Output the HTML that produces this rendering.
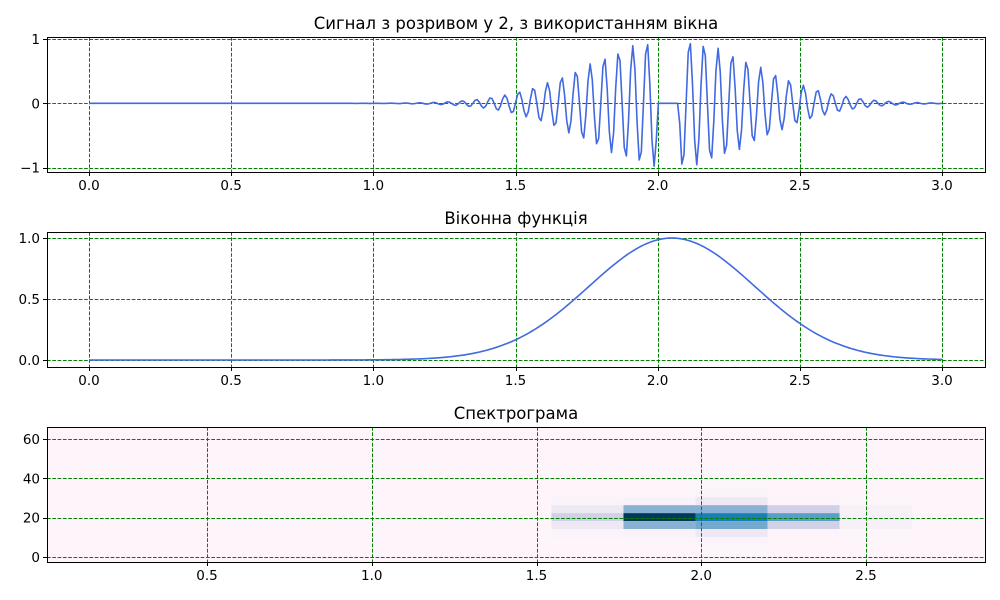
<!DOCTYPE html>
<html><head><meta charset="utf-8"><style>
body{margin:0;background:#fff;}
svg{display:block;font-family:"DejaVu Sans","Liberation Sans",sans-serif;}
</style></head><body>
<svg id="c" width="1000" height="600"></svg>
<script>
// ---- data ----
const sigFreq = 20;            // Hz carrier
const sigBreakStart = 2.0;     // gap start (s)
const sigBreakEnd = 2.075;     // gap end (s)
const sampleCount = 400;
const winTimes = [0,0.5,0.9,1.0,1.05,1.1,1.15,1.2,1.25,1.3,1.35,1.4,1.45,1.5,1.55,1.6,1.65,1.7,1.75,1.8,1.85,1.9,1.95,2.0,2.05,2.1,2.15,2.2,2.25,2.3,2.35,2.4,2.45,2.5,2.55,2.6,2.65,2.7,2.75,2.8,2.85,2.9,2.95,3.0];
const winValues = [0,0,0.0002,0.0014,0.0026,0.0047,0.0081,0.0136,0.022,0.035,0.054,0.081,0.118,0.165,0.226,0.300,0.386,0.483,0.586,0.690,0.788,0.875,0.942,0.985,1.0,0.985,0.942,0.875,0.788,0.690,0.586,0.483,0.386,0.300,0.226,0.165,0.118,0.081,0.054,0.035,0.022,0.0136,0.0081,0.0047];
const specTimeStart = 0.0144, specTimeStep = 0.2187, specCols = 13;
const specFreqStep = 4.06, specRows = 17;
// cells: [col, row, value 0..1]
const specCells = [
 [7,5,0.25],[8,5,1.0],[9,5,0.70],[10,5,0.55],[11,5,0.06],
 [7,4,0.12],[8,4,0.45],[9,4,0.50],[10,4,0.25],[11,4,0.05],
 [7,6,0.12],[8,6,0.45],[9,6,0.45],[10,6,0.25],[11,6,0.05],
 [7,3,0.03],[8,3,0.04],[9,3,0.12],[10,3,0.02],
 [7,7,0.03],[8,7,0.04],[9,7,0.12],[10,7,0.02],
 [9,2,0.03],[9,8,0.03]
];
const xTicks1 = [0,0.5,1.0,1.5,2.0,2.5,3.0];
const yTicks1 = [-1,0,1];
const yTicks2 = [0,0.5,1.0];
const xTicks3 = [0.5,1.0,1.5,2.0,2.5];
const yTicks3 = [0,20,40,60];
</script>
<script>
const NS="http://www.w3.org/2000/svg";
const svg=document.getElementById('c');
function mk(tag,attrs,parent){const e=document.createElementNS(NS,tag);for(const k in attrs)e.setAttribute(k,attrs[k]);(parent||svg).appendChild(e);return e;}
function lin(d0,d1,p0,p1){return v=>p0+(v-d0)*(p1-p0)/(d1-d0);}
function winAt(t){
  const n=winTimes.length;
  for(let i=0;i<n-1;i++){if(t<=winTimes[i+1]){
    const h=winTimes[i+1]-winTimes[i];const a=(t-winTimes[i])/h;
    const p0=winValues[Math.max(i-1,0)],p1=winValues[i],p2=winValues[i+1],p3=winValues[Math.min(i+2,n-1)];
    const m1=(p2-p0)/2,m2=(p3-p1)/2;
    const a2=a*a,a3=a2*a;
    return (2*a3-3*a2+1)*p1+(a3-2*a2+a)*m1+(-2*a3+3*a2)*p2+(a3-a2)*m2;}}
  return winValues[n-1];}
const L=47,R=985;
const snap=v=>Math.round(v)+0.5;
function frame(g,top,bot,xs,ys,xt,yt,fmtx,fmty,title,name){
  const grid=mk('g',{},g);
  
  
  xt.forEach(v=>{mk('line',{x1:snap(xs(v)),x2:snap(xs(v)),y1:top,y2:bot,stroke:'#008000','stroke-width':1,'stroke-dasharray':'3.7,1.6'},grid);});
  yt.forEach(v=>{mk('line',{x1:L,x2:R,y1:snap(ys(v)),y2:snap(ys(v)),stroke:'#008000','stroke-width':1,'stroke-dasharray':'3.7,1.6'},grid);});
  const fr=mk('rect',{x:L+0.5,y:Math.round(top)+0.5,width:R-L,height:Math.round(bot-top),fill:'none',stroke:'#000','stroke-width':1},g);
  
  
  const xa=mk('g',{},g);
  
  
  xt.forEach(v=>{mk('line',{x1:snap(xs(v)),x2:snap(xs(v)),y1:bot,y2:bot+4,stroke:'#000'},xa);
    const t=mk('text',{x:xs(v),y:bot+18,'text-anchor':'middle','font-size':13.5},xa);t.textContent=fmtx(v);
    
    });
  const ya=mk('g',{},g);
  
  
  yt.forEach(v=>{mk('line',{x1:L-4,x2:L,y1:snap(ys(v)),y2:snap(ys(v)),stroke:'#000'},ya);
    const t=mk('text',{x:L-7,y:ys(v)+5,'text-anchor':'end','font-size':13.5},ya);t.textContent=fmty(v);
    
    });
  const tt=mk('text',{x:(L+R)/2,y:top-8,'text-anchor':'middle','font-size':16.5},g);tt.textContent=title;
  
  
}
// Plot 1
{const top=37,bot=172;const xs=lin(0,3,89,942);const ys=lin(-1,1,167.7,39);
 const g=mk('g',{});
 
 
 const pts=[];
 for(let i=0;i<=sampleCount;i++){const t=3*i/sampleCount;let v=0;
   if(!(t>=sigBreakStart&&t<sigBreakEnd))v=Math.sin(2*Math.PI*sigFreq*t)*winAt(t);
   pts.push(xs(t).toFixed(2)+','+ys(v).toFixed(2));}
 frame(g,top,bot,xs,ys,xTicks1,yTicks1,v=>v.toFixed(1),v=>v<0?'−1':String(v),'Сигнал з розривом у 2, з використанням вікна','signal');
 const p=mk('polyline',{points:pts.join(' '),fill:'none',stroke:'#4169e1','stroke-width':1.6,'stroke-linejoin':'round'},g);
 
 
}
// Plot 2
{const top=232,bot=367;const xs=lin(0,3,89,942);const ys=lin(0,1,360,238);
 const g=mk('g',{});
 
 
 frame(g,top,bot,xs,ys,xTicks1,yTicks2,v=>v.toFixed(1),v=>v.toFixed(1),'Віконна функція','window');
 const pts=[];
 for(let i=0;i<=300;i++){const t=3*i/300;pts.push(xs(t).toFixed(2)+','+ys(winAt(t)).toFixed(2));}
 const p=mk('polyline',{points:pts.join(' '),fill:'none',stroke:'#4169e1','stroke-width':1.6},g);
 
 
}
// Plot 3
{const top=427,bot=562;const xs=lin(0.5,2.5,207,866);const ys=lin(0,60,557,439);
 const g=mk('g',{});
 
 
 const stops=[[0,[255,247,251]],[0.125,[236,231,242]],[0.25,[208,209,230]],[0.375,[166,189,219]],[0.5,[116,169,207]],[0.625,[54,144,192]],[0.75,[5,112,176]],[0.875,[4,90,141]],[1,[2,56,88]]];
 function cmap(v){for(let i=0;i<stops.length-1;i++){if(v<=stops[i+1][0]){const a=(v-stops[i][0])/(stops[i+1][0]-stops[i][0]);const c=stops[i][1].map((x,j)=>Math.round(x+a*(stops[i+1][1][j]-x)));return 'rgb('+c.join(',')+')';}}return 'rgb(2,56,88)';}
 const cells=mk('g',{},g);
 
 
 const bg=mk('rect',{x:L,y:top,width:R-L,height:bot-top,fill:'rgb(253,245,250)'},cells);
 
 
 specCells.forEach(([c,r,v])=>{
   const xa=xs(specTimeStart+c*specTimeStep),xb=xs(specTimeStart+(c+1)*specTimeStep);
   const ya=ys((r+0.5)*specFreqStep),yb2=ys((r-0.5)*specFreqStep);
   const e=mk('rect',{x:xa,y:ya,width:xb-xa,height:yb2-ya,fill:cmap(v)},cells);
   
   
 });
 frame(g,top,bot,xs,ys,xTicks3,yTicks3,v=>v.toFixed(1),v=>String(v),'Спектрограма','spectrogram');
}
</script>
</body></html>
